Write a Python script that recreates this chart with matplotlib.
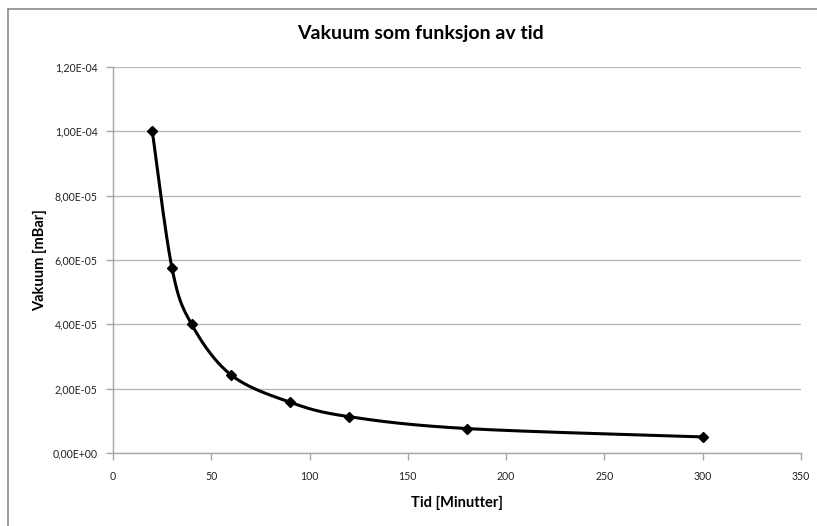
import numpy as np
import matplotlib
matplotlib.use("Agg")
import matplotlib.pyplot as plt
from matplotlib.lines import Line2D
from matplotlib.ticker import FixedLocator, FuncFormatter

# Pump-down measurements
tid_min = [20, 30, 40, 60, 90, 120, 180, 300]
vakuum_mbar = [1.0e-4, 5.75e-5, 4.0e-5, 2.43e-5, 1.58e-5, 1.13e-5, 7.6e-6, 5.0e-6]
x_ticks = [0, 50, 100, 150, 200, 250, 300, 350]
y_ticks = [0.0, 2e-5, 4e-5, 6e-5, 8e-5, 1.0e-4, 1.2e-4]

plt.rcParams["font.family"] = ["Lato", "DejaVu Sans"]

W, H = 817, 526
fig = plt.figure(figsize=(W / 100, H / 100), dpi=100)
fig.patch.set_facecolor("white")

# chart-area frame (top and left edges visible)
fig.add_artist(Line2D([8 / W, 8 / W], [0, 1 - 9 / H], transform=fig.transFigure,
                      color="#8c8c8c", lw=1.2))
fig.add_artist(Line2D([8 / W, 1], [1 - 9 / H, 1 - 9 / H], transform=fig.transFigure,
                      color="#8c8c8c", lw=1.2))

left, right, top, bottom = 113, 801, 67, 453
ax = fig.add_axes([left / W, 1 - bottom / H, (right - left) / W, (bottom - top) / H])
xmin, xmax, ymin, ymax = 0, 350, 0, 1.2e-4
ax.set_xlim(xmin, xmax)
ax.set_ylim(ymin, ymax)


def smooth_curve(xs, ys, n=40):
    # Bezier smoothing through every point (spreadsheet-style smoothed line),
    # computed in normalised axis space
    aspect = (bottom - top) / (right - left)
    px = (np.asarray(xs, float) - xmin) / (xmax - xmin)
    py = (np.asarray(ys, float) - ymin) / (ymax - ymin) * aspect
    pts = np.column_stack([px, py])
    out = []
    m = len(pts)
    for i in range(m - 1):
        p0 = pts[i - 1] if i > 0 else pts[i]
        p1 = pts[i]
        p2 = pts[i + 1]
        p3 = pts[i + 2] if i + 2 < m else pts[i + 1]
        c1 = p1 + (p2 - p0) / 6
        c2 = p2 - (p3 - p1) / 6
        t = np.linspace(0, 1, n)[:, None]
        seg = ((1 - t) ** 3) * p1 + 3 * ((1 - t) ** 2) * t * c1 + 3 * (1 - t) * t ** 2 * c2 + t ** 3 * p2
        out.append(seg if i == 0 else seg[1:])
    c = np.vstack(out)
    cx = c[:, 0] * (xmax - xmin) + xmin
    cy = c[:, 1] / aspect * (ymax - ymin) + ymin
    return cx, cy


cx, cy = smooth_curve(tid_min, vakuum_mbar)
ax.plot(cx, cy, color="black", lw=2.2, zorder=3, solid_capstyle="round")
ax.plot(tid_min, vakuum_mbar, linestyle="none", marker="D", markersize=5.2,
        color="black", zorder=4)

ax.xaxis.set_major_locator(FixedLocator(x_ticks))
ax.yaxis.set_major_locator(FixedLocator(y_ticks))
ax.yaxis.set_major_formatter(FuncFormatter(lambda v, p: ("%.2E" % v).replace(".", ",")))
ax.xaxis.set_major_formatter(FuncFormatter(lambda v, p: "%d" % v))

ax.grid(axis="y", color="#b8b8b8", lw=1.0)
ax.set_axisbelow(True)
for s in ["top", "right"]:
    ax.spines[s].set_visible(False)
for s in ["left", "bottom"]:
    ax.spines[s].set_color("#a6a6a6")
    ax.spines[s].set_linewidth(1.0)
ax.tick_params(axis="both", direction="out", length=5, width=1.0, color="#a6a6a6",
               labelsize=7.6, labelcolor="#222222")
ax.tick_params(axis="x", pad=8)
ax.tick_params(axis="y", pad=6)

ax.set_xlabel("Tid [Minutter]", fontsize=10.5, fontweight="bold", labelpad=10)
ax.set_ylabel("Vakuum [mBar]", fontsize=10.5, fontweight="bold", labelpad=4)
fig.text(420 / W, 1 - 33 / H, "Vakuum som funksjon av tid",
         ha="center", va="center", fontsize=14, fontweight="bold")

fig.savefig("out.png", dpi=100, facecolor="white")
